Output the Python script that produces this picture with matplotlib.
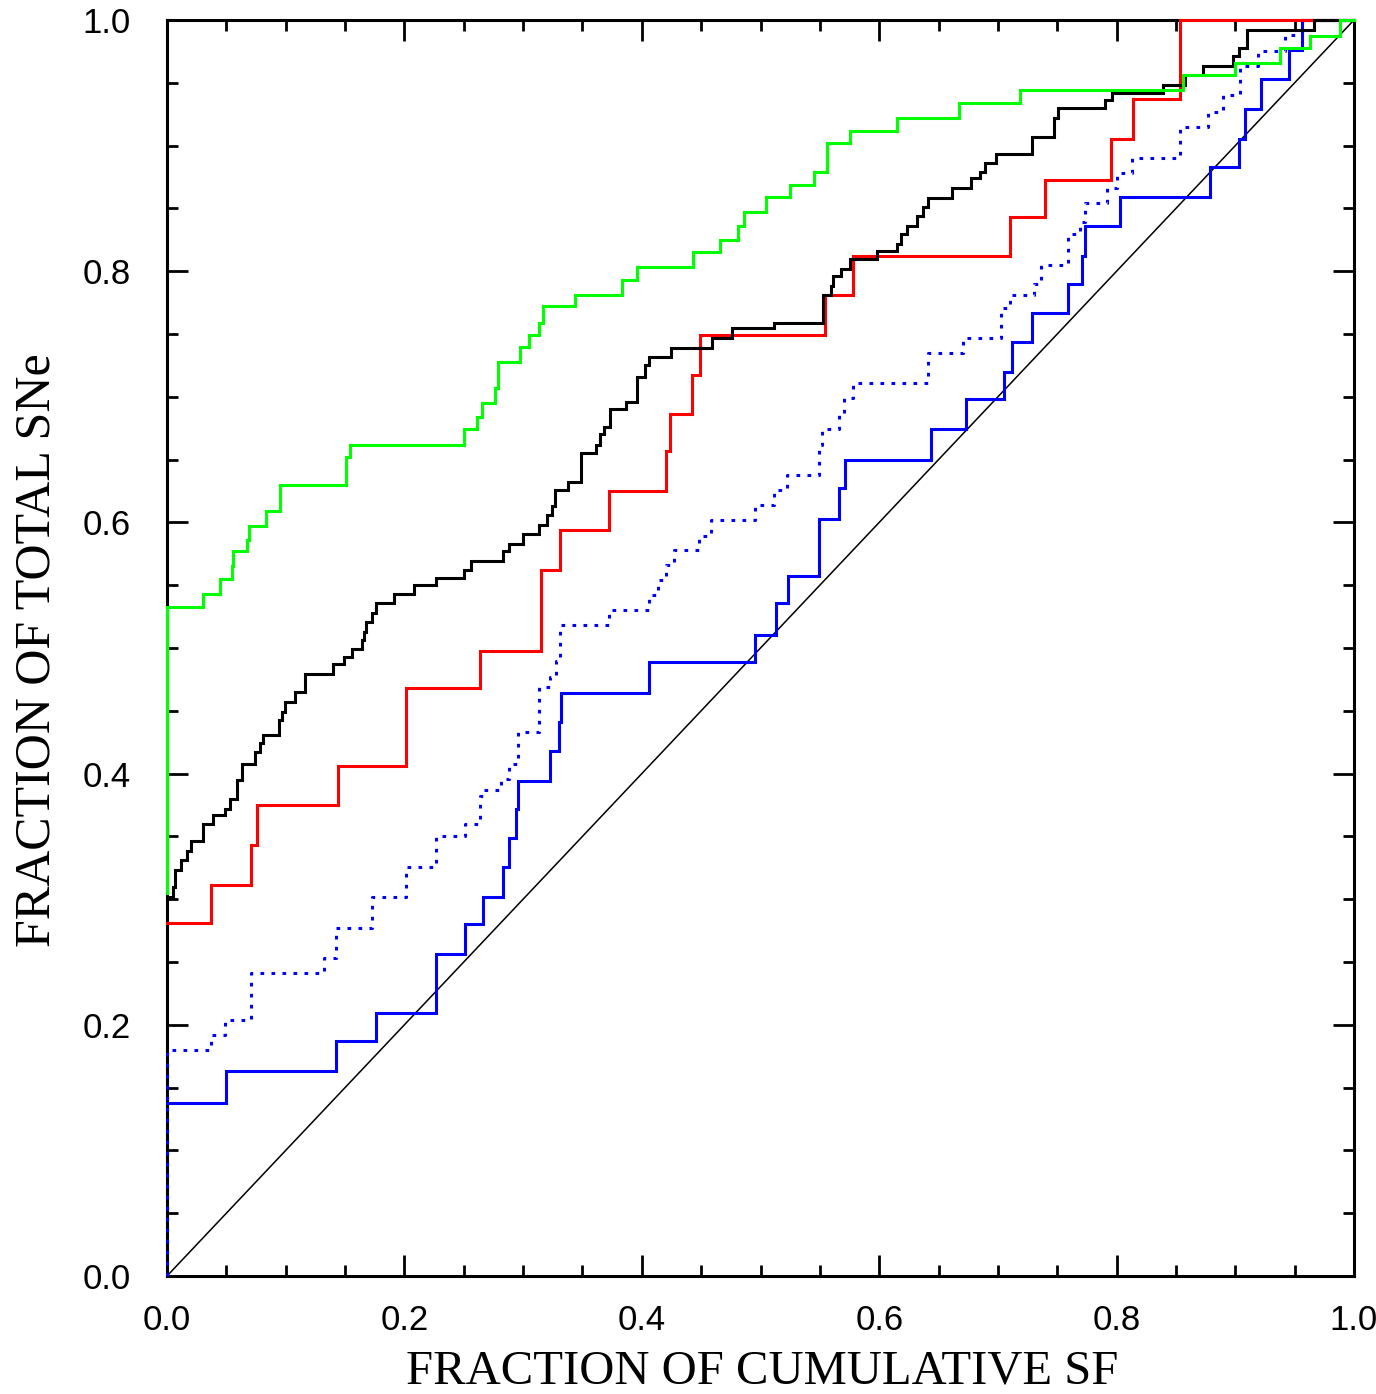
import matplotlib
matplotlib.use("Agg")
import matplotlib.pyplot as plt
from matplotlib.ticker import MultipleLocator

# Each curve: x where a new step level begins, and the level reached there.
green_x = [0, 0.030, 0.045, 0.055, 0.056, 0.067, 0.069, 0.083, 0.095, 0.151,
           0.154, 0.250, 0.261, 0.265, 0.276, 0.279, 0.297, 0.305, 0.313, 0.317,
           0.344, 0.383, 0.396, 0.443, 0.466, 0.481, 0.486, 0.505, 0.525, 0.545,
           0.556, 0.575, 0.615, 0.667, 0.719, 0.856, 0.900, 0.938, 0.963, 0.988]
green_y = [0.533, 0.543, 0.555, 0.565, 0.577, 0.586, 0.597, 0.609, 0.630, 0.652,
           0.662, 0.674, 0.684, 0.695, 0.707, 0.728, 0.740, 0.749, 0.759, 0.772,
           0.781, 0.793, 0.803, 0.815, 0.825, 0.836, 0.847, 0.859, 0.869, 0.879,
           0.902, 0.912, 0.922, 0.934, 0.944, 0.956, 0.966, 0.978, 0.987, 1.0]
green_start = 0.305

black_x = [0, 0.005, 0.007, 0.012, 0.017, 0.020, 0.030, 0.039, 0.049, 0.053,
           0.059, 0.063, 0.074, 0.078, 0.081, 0.094, 0.097, 0.099, 0.108, 0.116,
           0.140, 0.149, 0.156, 0.164, 0.166, 0.168, 0.173, 0.176, 0.191, 0.208,
           0.227, 0.250, 0.256, 0.283, 0.288, 0.300, 0.313, 0.320, 0.324, 0.327,
           0.338, 0.349, 0.361, 0.365, 0.368, 0.373, 0.387, 0.396, 0.403, 0.406,
           0.425, 0.459, 0.476, 0.511, 0.553, 0.559, 0.561, 0.568, 0.575, 0.598,
           0.615, 0.618, 0.623, 0.632, 0.637, 0.641, 0.661, 0.677, 0.685, 0.689,
           0.698, 0.729, 0.747, 0.751, 0.790, 0.796, 0.839, 0.858, 0.873, 0.898,
           0.903, 0.910, 0.966]
black_y = [0.302, 0.310, 0.323, 0.331, 0.338, 0.346, 0.360, 0.367, 0.372, 0.380,
           0.395, 0.408, 0.417, 0.424, 0.431, 0.443, 0.449, 0.457, 0.465, 0.479,
           0.487, 0.493, 0.499, 0.506, 0.513, 0.521, 0.528, 0.536, 0.543, 0.550,
           0.556, 0.562, 0.569, 0.577, 0.583, 0.591, 0.598, 0.606, 0.613, 0.626,
           0.632, 0.655, 0.662, 0.670, 0.676, 0.690, 0.696, 0.716, 0.725, 0.732,
           0.739, 0.747, 0.755, 0.759, 0.781, 0.788, 0.796, 0.802, 0.810, 0.816,
           0.822, 0.830, 0.836, 0.844, 0.851, 0.858, 0.866, 0.874, 0.879, 0.886,
           0.893, 0.907, 0.922, 0.930, 0.936, 0.942, 0.948, 0.956, 0.963, 0.971,
           0.978, 0.992, 1.0]
black_start = 0.302

red_x = [0, 0.037, 0.071, 0.076, 0.144, 0.201, 0.264, 0.315, 0.331, 0.372,
         0.420, 0.424, 0.442, 0.449, 0.554, 0.578, 0.710, 0.740, 0.795, 0.814,
         0.853]
red_y = [0.281, 0.311, 0.343, 0.375, 0.406, 0.468, 0.498, 0.562, 0.594, 0.625,
         0.657, 0.686, 0.717, 0.749, 0.781, 0.812, 0.843, 0.873, 0.905, 0.937,
         1.0]
red_start = 0.281

blue_x = [0, 0.050, 0.142, 0.176, 0.227, 0.251, 0.266, 0.283, 0.288, 0.294,
          0.296, 0.323, 0.330, 0.332, 0.406, 0.495, 0.513, 0.523, 0.549, 0.566,
          0.571, 0.644, 0.673, 0.705, 0.712, 0.729, 0.759, 0.771, 0.773, 0.803,
          0.879, 0.903, 0.908, 0.922, 0.945, 0.956]
blue_y = [0.138, 0.163, 0.187, 0.209, 0.256, 0.280, 0.302, 0.326, 0.349, 0.372,
          0.394, 0.418, 0.441, 0.464, 0.489, 0.510, 0.536, 0.557, 0.603, 0.627,
          0.650, 0.674, 0.698, 0.720, 0.744, 0.767, 0.790, 0.812, 0.836, 0.859,
          0.883, 0.905, 0.929, 0.953, 0.976, 1.0]
blue_start = 0.138

dotted_x = [0, 0.037, 0.049, 0.071, 0.132, 0.142, 0.173, 0.201, 0.227, 0.251,
            0.264, 0.266, 0.281, 0.288, 0.296, 0.313, 0.323, 0.328, 0.331, 0.372,
            0.406, 0.414, 0.420, 0.427, 0.448, 0.458, 0.495, 0.511, 0.522, 0.549,
            0.552, 0.566, 0.570, 0.578, 0.641, 0.671, 0.703, 0.710, 0.730, 0.736,
            0.759, 0.769, 0.773, 0.792, 0.800, 0.813, 0.853, 0.877, 0.890, 0.904,
            0.919, 0.942, 0.956]
dotted_y = [0.180, 0.192, 0.204, 0.241, 0.253, 0.277, 0.302, 0.326, 0.350, 0.360,
            0.382, 0.387, 0.396, 0.408, 0.433, 0.469, 0.477, 0.490, 0.518, 0.530,
            0.542, 0.554, 0.566, 0.578, 0.589, 0.602, 0.614, 0.626, 0.638, 0.662,
            0.674, 0.686, 0.699, 0.711, 0.735, 0.747, 0.771, 0.781, 0.790, 0.805,
            0.830, 0.839, 0.854, 0.866, 0.878, 0.890, 0.915, 0.927, 0.940, 0.963,
            0.975, 0.988, 1.0]
dotted_start = 0.0

tick_labels = ["0.0", "0.2", "0.4", "0.6", "0.8", "1.0"]
tick_values = [0.0, 0.2, 0.4, 0.6, 0.8, 1.0]

NUM_FONT = ["Liberation Sans Narrow", "Liberation Sans", "DejaVu Sans"]
LABEL_FONT = ["Liberation Serif", "DejaVu Serif"]


def steps(xs, ys, start):
    """Extends a step curve so it runs from x=0 to x=1."""
    return [0.0] + xs + [1.0], [start] + ys + [ys[-1]]


fig = plt.figure(figsize=(13.76, 13.94), dpi=100)
ax = fig.add_axes([167 / 1376, 1 - 1276 / 1394, 1187 / 1376, 1256 / 1394])

# one-to-one line
ax.plot([0, 1], [0, 1], color="black", lw=1.1, zorder=2)

curves = [
    (dotted_x, dotted_y, dotted_start, "#0000ff", (0, (1.2, 2.4))),
    (blue_x, blue_y, blue_start, "#0000ff", "-"),
    (red_x, red_y, red_start, "#ff0000", "-"),
    (black_x, black_y, black_start, "black", "-"),
    (green_x, green_y, green_start, "#00ff00", "-"),
]
for xs, ys, start, color, ls in curves:
    sx, sy = steps(xs, ys, start)
    ax.plot(sx, sy, drawstyle="steps-post", color=color, lw=2.2, ls=ls,
            clip_on=False, zorder=3, solid_joinstyle="miter")

ax.set_xlim(0, 1)
ax.set_ylim(0, 1)
ax.set_xticks(tick_values)
ax.set_yticks(tick_values)
ax.set_xticklabels(tick_labels, family=NUM_FONT, fontsize=25)
ax.set_yticklabels(tick_labels, family=NUM_FONT, fontsize=25)
ax.xaxis.set_minor_locator(MultipleLocator(0.05))
ax.yaxis.set_minor_locator(MultipleLocator(0.05))
ax.tick_params(which="both", direction="in", top=True, right=True, width=2.0)
ax.tick_params(which="major", length=15)
ax.tick_params(which="minor", length=8)
ax.tick_params(axis="x", which="major", pad=20)
ax.tick_params(axis="y", which="major", pad=26)
for spine in ax.spines.values():
    spine.set_linewidth(2.2)

fig.text(762 / 1376, 1 - 1371 / 1394, "FRACTION OF CUMULATIVE SF",
         family=LABEL_FONT, fontsize=35, ha="center", va="center")
fig.text(37 / 1376, 1 - 650 / 1394, "FRACTION OF TOTAL SNe",
         family=LABEL_FONT, fontsize=36, ha="center", va="center", rotation=90)

fig.savefig("out.png", dpi=100)
